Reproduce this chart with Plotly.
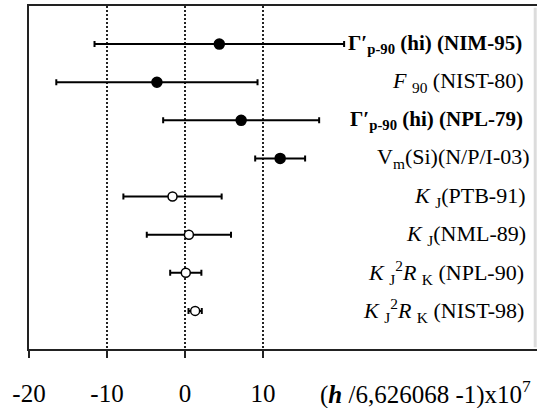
import plotly.graph_objects as go

# ---- data ----
labels = [
    "<b>Γ′<sub>p-90</sub> (hi) (NIM-95)</b>",
    "<i>F</i> <sub>90</sub> (NIST-80)",
    "<b>Γ′<sub>p-90</sub> (hi) (NPL-79)</b>",
    "V<sub>m</sub>(Si)(N/P/I-03)",
    "<i>K</i> <sub>J</sub>(PTB-91)",
    "<i>K</i> <sub>J</sub>(NML-89)",
    "<i>K</i> <sub>J</sub><sup>2</sup><i>R</i> <sub>K</sub> (NPL-90)",
    "<i>K</i> <sub>J</sub><sup>2</sup><i>R</i> <sub>K</sub> (NIST-98)",
]
values = [4.4, -3.6, 7.2, 12.2, -1.6, 0.5, 0.1, 1.3]
errors = [16.0, 12.9, 10.0, 3.2, 6.3, 5.4, 2.0, 0.85]
filled = [True, True, True, True, False, False, False, False]
tick_vals = [-20, -10, 0, 10]
tick_text = ["-20", "-10", "0", "10"]
axis_label = "(<b><i>h</i></b> /6,626068 -1)x10<sup>7</sup>"

n = len(labels)
rows = [n - i for i in range(n)]  # top row first

SERIF = "Liberation Serif"

fig = go.Figure()

for is_filled in (True, False):
    idx = [i for i in range(n) if filled[i] == is_filled]
    fig.add_trace(go.Scatter(
        x=[values[i] for i in idx],
        y=[rows[i] for i in idx],
        mode="markers",
        marker=dict(
            symbol="circle",
            size=10 if is_filled else 9,
            color="black" if is_filled else "white",
            line=dict(color="black", width=1.5),
        ),
        error_x=dict(
            type="data",
            array=[errors[i] for i in idx],
            color="black",
            thickness=2,
            width=3,
        ),
        showlegend=False,
        hoverinfo="skip",
    ))

label_x = [0.975, 0.979, 0.977, 0.99, 0.983, 0.983, 0.979, 0.979]
label_size = [21, 22, 21, 22, 22, 22, 22, 22]
for i in range(n):
    fig.add_annotation(
        x=label_x[i], xref="paper",
        y=rows[i], yref="y",
        text=labels[i],
        showarrow=False,
        xanchor="right", yanchor="middle",
        font=dict(family=SERIF, size=label_size[i], color="black"),
    )

fig.add_annotation(
    x=(318 - 29) / 508, xref="paper",
    y=-43 / 343, yref="paper",
    text=axis_label,
    showarrow=False,
    xanchor="left", yanchor="middle",
    font=dict(family=SERIF, size=25, color="black"),
)

# faint right border
fig.add_shape(type="line", xref="paper", yref="paper",
              x0=0.9965, x1=0.9965, y0=0.005, y1=0.995,
              line=dict(color="#dcdcdc", width=3))

fig.update_layout(
    width=537, height=408,
    margin=dict(l=29, r=0, t=6, b=59),
    paper_bgcolor="white",
    plot_bgcolor="white",
    xaxis=dict(
        range=[-20, 45.13],
        tickvals=tick_vals,
        ticktext=tick_text,
        showgrid=True,
        gridcolor="#222",
        gridwidth=2,
        griddash="2px,2px",
        zeroline=False,
        showline=True,
        linecolor="#222",
        linewidth=2,
        mirror=True,
        ticks="outside",
        ticklen=7,
        tickwidth=2,
        tickcolor="#222",
        ticklabelstandoff=14,
        tickfont=dict(family=SERIF, size=25, color="black"),
    ),
    yaxis=dict(
        range=[0, 9],
        showgrid=False,
        zeroline=False,
        showline=True,
        linecolor="#222",
        linewidth=2,
        showticklabels=False,
        ticks="",
    ),
)

fig.write_html("out.html")
